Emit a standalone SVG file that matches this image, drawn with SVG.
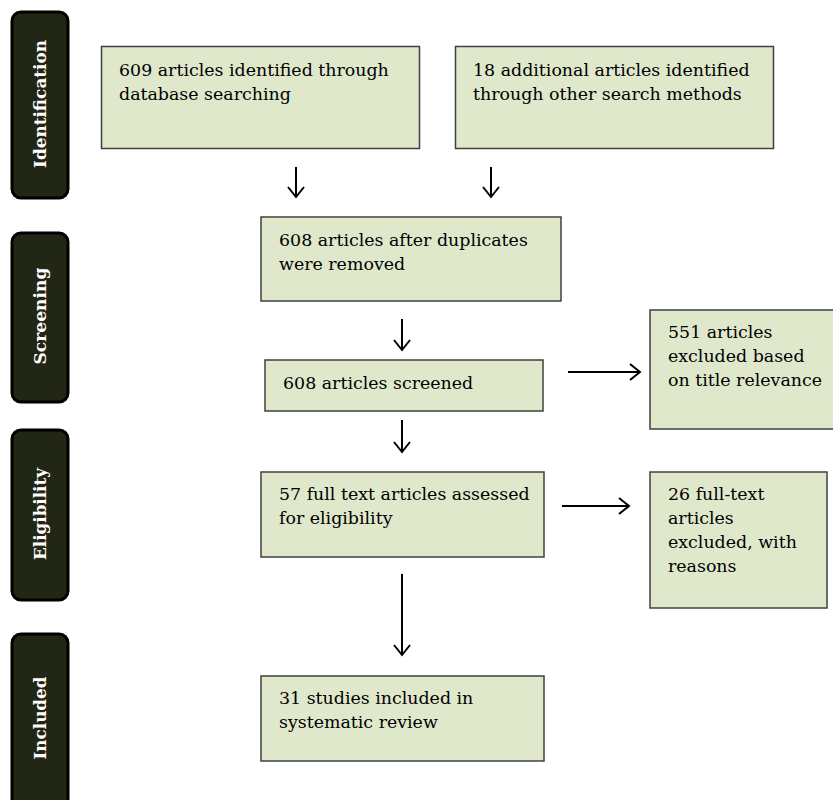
<svg xmlns="http://www.w3.org/2000/svg" width="833" height="800" viewBox="0 0 833 800">
<style>
.stage{fill:#222614;stroke:#000;stroke-width:3}
.st{font-family:"DejaVu Serif",serif;font-weight:bold;font-size:17px;fill:#fff;text-anchor:middle}
.box{fill:#e0e8cc;stroke:#404040;stroke-width:1.5}
.t{font-family:"DejaVu Serif",serif;font-size:17.4px;fill:#000}
.c{stroke:#000;stroke-width:2;fill:none}
</style>
<defs>
<marker id="ah" markerWidth="14" markerHeight="18" refX="12" refY="9" orient="auto" markerUnits="userSpaceOnUse">
<path d="M2,1 L12,9 L2,17" fill="none" stroke="#000" stroke-width="2"/>
</marker>
</defs>
<g id="stage-identification"><rect class="stage" x="12" y="12" width="56" height="186" rx="9"/><text class="st" transform="translate(46,104) rotate(-90)" textLength="128" lengthAdjust="spacingAndGlyphs">Identification</text></g>
<g id="stage-screening"><rect class="stage" x="12" y="233" width="56" height="169" rx="9"/><text class="st" transform="translate(46,316) rotate(-90)" textLength="97" lengthAdjust="spacingAndGlyphs">Screening</text></g>
<g id="stage-eligibility"><rect class="stage" x="12" y="430" width="56" height="170" rx="9"/><text class="st" transform="translate(46,514) rotate(-90)" textLength="92" lengthAdjust="spacingAndGlyphs">Eligibility</text></g>
<g id="stage-included"><rect class="stage" x="12" y="634" width="56" height="175" rx="9"/><text class="st" transform="translate(46,718) rotate(-90)" textLength="83" lengthAdjust="spacingAndGlyphs">Included</text></g>
<g id="n1"><rect class="box" x="101.5" y="46.5" width="318" height="102"/><text class="t" x="119" y="76">609 articles identified through</text><text class="t" x="119" y="100">database searching</text></g>
<g id="n2"><rect class="box" x="455.5" y="46.5" width="318" height="102"/><text class="t" x="473" y="76">18 additional articles identified</text><text class="t" x="473" y="100">through other search methods</text></g>
<g id="n3"><rect class="box" x="261" y="217" width="300" height="84"/><text class="t" x="279" y="246">608 articles after duplicates</text><text class="t" x="279" y="270">were removed</text></g>
<g id="n4"><rect class="box" x="265" y="360" width="278" height="51"/><text class="t" x="283" y="389">608 articles screened</text></g>
<g id="n5"><rect class="box" x="650" y="310" width="190" height="119"/><text class="t" x="668" y="338">551 articles</text><text class="t" x="668" y="362">excluded based</text><text class="t" x="668" y="386">on title relevance</text></g>
<g id="n6"><rect class="box" x="261" y="472" width="283" height="85"/><text class="t" x="279" y="500">57 full text articles assessed</text><text class="t" x="279" y="524">for eligibility</text></g>
<g id="n7"><rect class="box" x="650" y="472" width="177" height="136"/><text class="t" x="668" y="500">26 full-text</text><text class="t" x="668" y="524">articles</text><text class="t" x="668" y="548">excluded, with</text><text class="t" x="668" y="572">reasons</text></g>
<g id="n8"><rect class="box" x="261" y="676" width="283" height="85"/><text class="t" x="279" y="704">31 studies included in</text><text class="t" x="279" y="728">systematic review</text></g>
<g id="connectors">
<line class="c" x1="296" y1="167" x2="296" y2="197" marker-end="url(#ah)"/>
<line class="c" x1="491" y1="167" x2="491" y2="197" marker-end="url(#ah)"/>
<line class="c" x1="402" y1="319" x2="402" y2="350" marker-end="url(#ah)"/>
<line class="c" x1="568" y1="372" x2="640" y2="372" marker-end="url(#ah)"/>
<line class="c" x1="402" y1="420" x2="402" y2="452" marker-end="url(#ah)"/>
<line class="c" x1="562" y1="506" x2="629" y2="506" marker-end="url(#ah)"/>
<line class="c" x1="402" y1="574" x2="402" y2="655" marker-end="url(#ah)"/>
</g>
</svg>
